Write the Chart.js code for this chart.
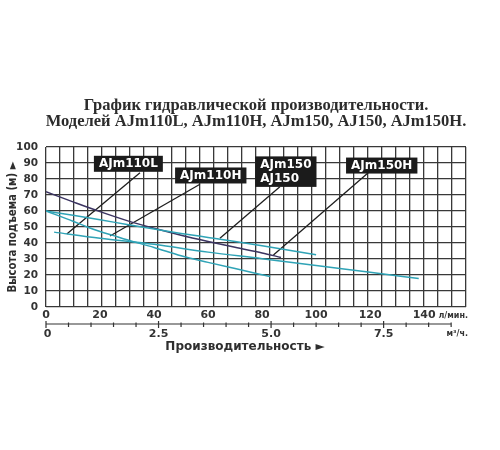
<!DOCTYPE html>
<html>
<head>
<meta charset="utf-8">
<script src="https://cdn.jsdelivr.net/npm/chart.js@4.4.1/dist/chart.umd.min.js"></script>
<style>
  html, body { margin: 0; padding: 0; background: #ffffff; }
  #wrap { width: 500px; height: 450px; }
</style>
</head>
<body>
<div id="wrap"><canvas id="c" width="500" height="450"></canvas></div>
<script>
// ---------- DATA ----------
const titleLines = ['График гидравлической производительности.', 'Моделей AJm110L, AJm110H, AJm150, AJ150, AJm150H.'];
const yTitle = 'Высота подъема (м) ►';
const xTitle = 'Производительность ►';
const unitLmin = 'л/мин.';
const unitM3h = 'м³/ч.';

const flowTicks = [0, 20, 40, 60, 80, 100, 120, 140];          // л/мин.
const m3Ticks = [0, 2.5, 5.0, 7.5];                            // м³/ч. (labelled)
const m3TickLabels = ['0', '2.5', '5.0', '7.5'];

// AJm150H (dark curve)
const ajm150hX = [0, 10, 20, 30, 40, 50, 60, 70, 80, 87];
const ajm150hY = [72, 65.7, 59.6, 54.0, 49.2, 44.9, 41.0, 37.3, 33.8, 31.0];
// AJm150 / AJ150
const ajm150X = [0, 10, 20, 30, 40, 50, 60, 70, 80, 90, 100];
const ajm150Y = [60, 57.3, 54.5, 51.6, 48.8, 46.0, 43.5, 41.0, 38.3, 35.5, 32.7];
// AJm110H
const ajm110hX = [0, 10, 15, 20, 25, 30, 40, 50, 60, 70, 83];
const ajm110hY = [60, 53.6, 50.2, 47.2, 44.6, 42.0, 37.2, 32.0, 27.9, 24.0, 19.0];
// AJm110L
const ajm110lX = [3, 20, 40, 60, 80, 100, 120, 138];
const ajm110lY = [46.8, 43.0, 39.2, 34.3, 30.2, 25.9, 21.7, 17.8];

// callout labels (text, anchor in data units) and their leader lines
const calloutTexts = [['AJm110L'], ['AJm110H'], ['AJm150', 'AJ150'], ['AJm150H']];
const calloutX = [30.5, 61.0, 88.8, 124.3];
const calloutY = [89.5, 82.2, 84.6, 88.4];
const leaderFromX = [34.8, 57.0, 86.6, 119.3];
const leaderFromY = [83.9, 76.7, 75.2, 83.9];
const leaderToX = [7.7, 23.7, 64.4, 84.2];
const leaderToY = [45.6, 44.4, 42.9, 32.5];

// ---------- CHART ----------
const LPM_PER_M3H = 1000 / 60;
const cyan = '#2fa3b6';
const dark = '#3b3461';
const gridColor = '#383838';

function pts(xs, ys) { return xs.map((v, i) => ({ x: v, y: ys[i] })); }

const datasets = [
  { data: pts(ajm110lX, ajm110lY), borderColor: cyan },
  { data: pts(ajm110hX, ajm110hY), borderColor: cyan },
  { data: pts(ajm150X, ajm150Y), borderColor: cyan },
  { data: pts(ajm150hX, ajm150hY), borderColor: dark },
].map(d => Object.assign(d, { borderWidth: 1.5, pointRadius: 0, tension: 0.4, cubicInterpolationMode: 'monotone', fill: false }));

leaderFromX.forEach((v, i) => {
  datasets.push({
    data: [{ x: v, y: leaderFromY[i] }, { x: leaderToX[i], y: leaderToY[i] }],
    borderColor: '#1e1e1e', borderWidth: 1.3, pointRadius: 0, tension: 0, fill: false
  });
});

const tickFont = { family: 'DejaVu Sans', weight: 'bold', size: 11 };

const annot = {
  id: 'annot',
  afterDatasetsDraw(chart) {
    const { ctx, scales: { x, y } } = chart;
    ctx.save();
    // callout boxes
    ctx.font = 'bold 12px "DejaVu Sans"';
    calloutTexts.forEach((lines, i) => {
      const cx = x.getPixelForValue(calloutX[i]);
      const cy = y.getPixelForValue(calloutY[i]);
      const w = Math.max(...lines.map(t => ctx.measureText(t).width)) + 10;
      const lh = 14.5;
      const h = lines.length * lh + 1.5;
      ctx.fillStyle = '#1b1b1b';
      ctx.fillRect(cx - w / 2, cy - h / 2, w, h);
      ctx.fillStyle = '#ffffff';
      ctx.textAlign = 'left';
      ctx.textBaseline = 'middle';
      lines.forEach((t, j) => {
        ctx.fillText(t, cx - w / 2 + 5, cy - h / 2 + 1 + lh * (j + 0.5));
      });
    });
    ctx.restore();
  },
  afterDraw(chart) {
    const { ctx, scales: { x, y }, chartArea } = chart;
    ctx.save();
    // second axis in m3/h
    const axY = chartArea.bottom + 17;
    const xStart = x.getPixelForValue(0);
    const xEnd = x.getPixelForValue(9 * LPM_PER_M3H);
    ctx.strokeStyle = '#333';
    ctx.lineWidth = 1.2;
    ctx.beginPath();
    ctx.moveTo(xStart, axY); ctx.lineTo(xEnd, axY);
    for (let k = 0; k <= 18; k++) {
      const px = x.getPixelForValue(k * 0.5 * LPM_PER_M3H);
      const major = k % 5 === 0;
      ctx.moveTo(px, axY - (major ? 3 : 1.5));
      ctx.lineTo(px, axY + (major ? 4 : 3));
    }
    ctx.stroke();
    ctx.fillStyle = '#333';
    ctx.font = 'bold 11px "DejaVu Sans"';
    ctx.textAlign = 'center';
    ctx.textBaseline = 'middle';
    m3Ticks.forEach((v, i) => {
      ctx.fillText(m3TickLabels[i], x.getPixelForValue(v * LPM_PER_M3H) + (i === 0 ? 1.5 : 0), axY + 10);
    });
    // units
    ctx.font = 'bold 8px "DejaVu Sans"';
    ctx.textAlign = 'right';
    ctx.fillText(unitLmin, 468, chartArea.bottom + 9);
    ctx.fillText(unitM3h, 468, axY + 10);
    // x title
    ctx.font = 'bold 12px "DejaVu Sans"';
    ctx.textAlign = 'center';
    ctx.fillStyle = '#2e2e2e';
    ctx.fillText(xTitle, 245, axY + 23);
    // y title
    ctx.save();
    ctx.translate(13, (chartArea.top + chartArea.bottom) / 2);
    ctx.rotate(-Math.PI / 2);
    ctx.font = 'bold 12px "DejaVu Sans"';
    ctx.fillText(yTitle, 0, 0, 131);
    ctx.restore();
    // main title
    ctx.font = 'bold 16.5px "Liberation Serif"';
    ctx.fillStyle = '#2c2c2c';
    ctx.fillText(titleLines[0], 256, 106);
    ctx.fillText(titleLines[1], 256, 121.5);
    ctx.restore();
  }
};

new Chart(document.getElementById('c'), {
  type: 'line',
  data: { datasets },
  options: {
    animation: false,
    responsive: false,
    devicePixelRatio: 1,
    layout: { padding: { top: 147, right: 34, bottom: 123, left: 0 } },
    plugins: { legend: { display: false }, tooltip: { enabled: false }, title: { display: false } },
    scales: {
      x: {
        type: 'linear', min: 0, max: 155.5, position: 'bottom',
        afterBuildTicks: s => { s.ticks = flowTicks.map(v => ({ value: v })); },
        ticks: { font: tickFont, color: '#333', padding: 2, maxRotation: 0, autoSkip: false },
        grid: { display: false, drawTicks: false },
        border: { display: false },
        afterFit: s => { s.height = 20; }
      },
      xg: {
        type: 'linear', min: 0, max: 30, position: 'top',
        ticks: { display: false, stepSize: 1 },
        grid: { color: gridColor, lineWidth: 1.3, drawTicks: false },
        border: { display: false },
        afterFit: s => { s.height = 0; }
      },
      y: {
        min: 0, max: 100,
        ticks: { stepSize: 10, font: { family: 'DejaVu Sans', weight: 'bold', size: 10.5 }, color: '#333', padding: 8 },
        grid: { color: gridColor, lineWidth: 1.3, drawTicks: false },
        border: { display: false },
        afterFit: s => { s.width = 46; }
      }
    }
  },
  plugins: [annot]
});
</script>
</body>
</html>
